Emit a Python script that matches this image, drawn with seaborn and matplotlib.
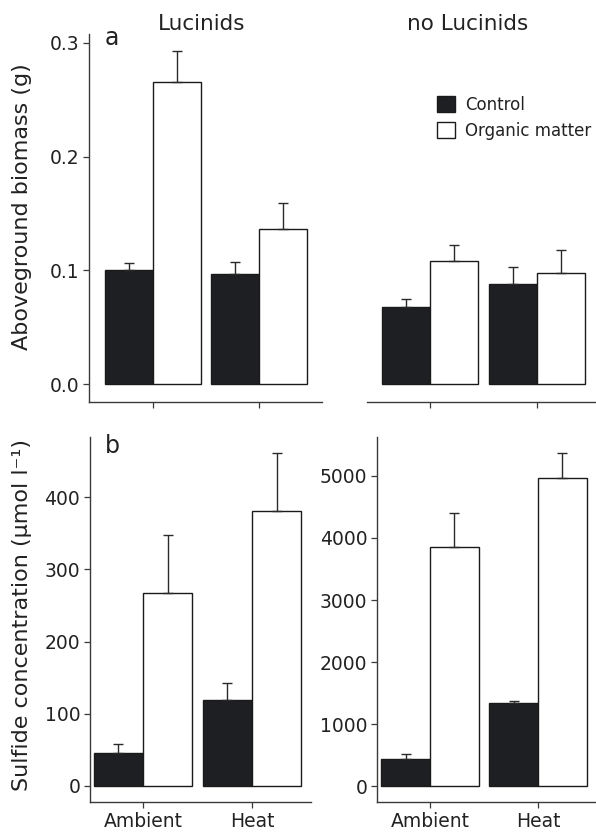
import numpy as np
import pandas as pd
import matplotlib
matplotlib.use("Agg")
import matplotlib.pyplot as plt
import seaborn as sns

# ---------------- data ----------------
temps = ["Ambient", "Heat"]
treatments = ["Control", "Organic matter"]

bio_luc_ctrl = [0.100, 0.097]
bio_luc_om = [0.266, 0.136]
bio_luc_ctrl_se = [0.006, 0.010]
bio_luc_om_se = [0.027, 0.023]

bio_noluc_ctrl = [0.068, 0.088]
bio_noluc_om = [0.108, 0.098]
bio_noluc_ctrl_se = [0.0065, 0.0145]
bio_noluc_om_se = [0.014, 0.020]

sul_luc_ctrl = [45, 119]
sul_luc_om = [268, 381]
sul_luc_ctrl_se = [12.5, 24]
sul_luc_om_se = [80, 80]

sul_noluc_ctrl = [430, 1344]
sul_noluc_om = [3860, 4963]
sul_noluc_ctrl_se = [81, 22]
sul_noluc_om_se = [548, 413]

col_titles = ["Lucinids", "no Lucinids"]
panel_letters = ["a", "b"]
ylab_top = "Aboveground biomass (g)"
ylab_bot = "Sulfide concentration (µmol l⁻¹)"
yticks_bio = [0.0, 0.1, 0.2, 0.3]
yticks_sul_luc = [0, 100, 200, 300, 400]
yticks_sul_noluc = [0, 1000, 2000, 3000, 4000, 5000]

# ---------------- style ----------------
sns.set_style("ticks")
plt.rcParams["font.family"] = ["DejaVu Sans"]
INK = "#1e1f22"
SPINE = "#3a3a3a"
TXT = "#222222"

W, H = 596, 834
fig = plt.figure(figsize=(W / 100, H / 100), dpi=100)


def rect(x0, x1, y0, y1):
    return [x0 / W, 1 - y1 / H, (x1 - x0) / W, (y1 - y0) / H]


def draw(ax, ctrl, om, ctrl_se, om_se, legend=False):
    df = pd.DataFrame({
        "temp": temps * 2,
        "treatment": [treatments[0]] * len(temps) + [treatments[1]] * len(temps),
        "value": list(ctrl) + list(om),
    })
    ses = list(ctrl_se) + list(om_se)
    vals = df["value"].to_numpy(dtype=float)
    sns.barplot(data=df, x="temp", y="value", hue="treatment",
                order=temps, hue_order=treatments,
                palette=[INK, "white"], saturation=1,
                edgecolor="#1a1a1a", linewidth=1.0, width=0.9,
                errorbar=None, legend=legend, ax=ax, zorder=2)
    xs, ys, es = [], [], []
    for p in ax.patches:
        h = p.get_height()
        if h <= 0 or not np.isclose(vals, h).any():
            continue
        i = int(np.argmin(np.abs(vals - h)))
        xs.append(p.get_x() + p.get_width() / 2)
        ys.append(h)
        es.append(ses[i])
    ax.errorbar(xs, ys, yerr=[np.zeros(len(es)), es], fmt="none",
                ecolor="#2a2a2a", elinewidth=1.0, capsize=3.6,
                capthick=1.0, zorder=3)
    ax.set_xlabel("")
    ax.set_ylabel("")
    for s in ["top", "right"]:
        ax.spines[s].set_visible(False)
    for s in ["left", "bottom"]:
        ax.spines[s].set_color(SPINE)
        ax.spines[s].set_linewidth(1.0)
    ax.tick_params(direction="out", length=4, width=0.9, color=SPINE,
                   labelsize=13.5, labelcolor=TXT, pad=3)


ax_tl = fig.add_axes(rect(89, 322, 34, 402))
ax_tr = fig.add_axes(rect(367, 596, 34, 402))
ax_bl = fig.add_axes(rect(90, 311, 437, 802))
ax_br = fig.add_axes(rect(377, 596, 437, 802))

draw(ax_tl, bio_luc_ctrl, bio_luc_om, bio_luc_ctrl_se, bio_luc_om_se)
draw(ax_tr, bio_noluc_ctrl, bio_noluc_om, bio_noluc_ctrl_se, bio_noluc_om_se, legend=True)
draw(ax_bl, sul_luc_ctrl, sul_luc_om, sul_luc_ctrl_se, sul_luc_om_se)
draw(ax_br, sul_noluc_ctrl, sul_noluc_om, sul_noluc_ctrl_se, sul_noluc_om_se)

# limits
ax_tl.set_xlim(-0.604, 1.594)
ax_tr.set_xlim(-0.589, 1.551)
ax_bl.set_xlim(-0.486, 1.541)
ax_br.set_xlim(-0.49, 1.537)
for ax in (ax_tl, ax_tr):
    ax.set_ylim(-0.0158, 0.3078)
ax_bl.set_ylim(-22.2, 483.4)
ax_br.set_ylim(-258, 5629)

ax_tl.set_yticks(yticks_bio)
ax_tl.set_yticklabels([f"{v:.1f}" for v in yticks_bio])
ax_bl.set_yticks(yticks_sul_luc)
ax_br.set_yticks(yticks_sul_noluc)

for ax in (ax_tl, ax_tr):
    ax.tick_params(labelbottom=False)

ax_tr.spines["left"].set_visible(False)
ax_tr.set_yticks([])

# legend
sns.move_legend(ax_tr, "upper left", bbox_to_anchor=(437 / W, 1 - 95.5 / H),
                bbox_transform=fig.transFigure, title=None, frameon=False,
                fontsize=12, handlelength=1.1, handleheight=1.1,
                handletextpad=0.6, labelspacing=0.5, borderpad=0,
                borderaxespad=0)
for t in ax_tr.get_legend().get_texts():
    t.set_color(TXT)

# texts
fig.text(202 / W, 1 - 29.5 / H, col_titles[0], ha="center", va="baseline",
         fontsize=15.5, color=TXT)
fig.text(468 / W, 1 - 30 / H, col_titles[1], ha="center", va="baseline",
         fontsize=15.5, color=TXT)
fig.text(105 / W, 1 - 45 / H, panel_letters[0], ha="left", va="baseline",
         fontsize=17, color=TXT)
fig.text(105 / W, 1 - 453 / H, panel_letters[1], ha="left", va="baseline",
         fontsize=17, color=TXT)
fig.text(22 / W, 1 - 206.5 / H, ylab_top, rotation=90, ha="center",
         va="center", fontsize=16, color=TXT)
fig.text(22 / W, 1 - 615 / H, ylab_bot, rotation=90, ha="center",
         va="center", fontsize=16, color=TXT)

fig.savefig("out.png", dpi=100)
